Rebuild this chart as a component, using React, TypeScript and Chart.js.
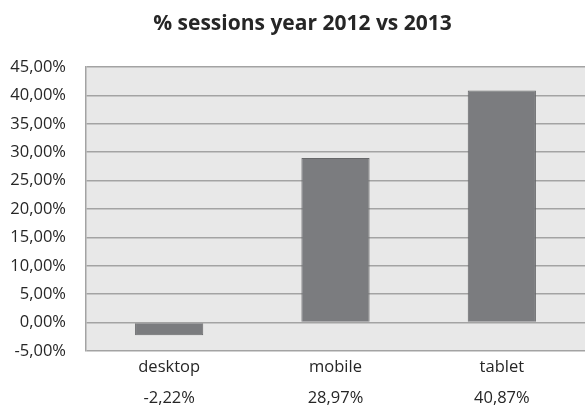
import React, { useEffect, useRef } from "react";
import { Chart, registerables } from "chart.js";

Chart.register(...registerables);

const title = "% sessions year 2012 vs 2013";
const categories = ["desktop", "mobile", "tablet"];
const values = [-2.22, 28.97, 40.87];
const valueLabels = ["-2,22%", "28,97%", "40,87%"];
const yMin = -5;
const yMax = 45;
const yStep = 5;

const FONT = "'Open Sans', sans-serif";
const TEXT = "#262626";
const GRID = "#a3a3a3";
const TITLE_SIZE = 21;

const plotBg = {
  id: "plotBg",
  beforeDraw(chart: any) {
    const { ctx, chartArea } = chart;
    if (!chartArea) return;
    ctx.save();
    ctx.fillStyle = "#e8e8e8";
    ctx.fillRect(chartArea.left, chartArea.top, chartArea.right - chartArea.left, chartArea.bottom - chartArea.top);
    ctx.restore();
  },
};

// draws the title slightly right of the canvas centre, as in the reference
const titleDraw = {
  id: "titleDraw",
  afterDraw(chart: any) {
    const tb = chart.titleBlock;
    if (!tb) return;
    const { ctx } = chart;
    ctx.save();
    ctx.fillStyle = TEXT;
    ctx.font = `bold ${TITLE_SIZE}px ${FONT}`;
    ctx.textAlign = "center";
    ctx.textBaseline = "middle";
    const y = tb.top + 11 + (TITLE_SIZE * 1.2) / 2;
    ctx.fillText(title, chart.width / 2 + 10, y);
    ctx.restore();
  },
};

export default function App() {
  const ref = useRef<HTMLCanvasElement | null>(null);
  useEffect(() => {
    if (!ref.current) return;
    const chart = new Chart(ref.current, {
      type: "bar",
      data: {
        labels: categories.map((c, i) => [c, valueLabels[i]]),
        datasets: [
          {
            data: values,
            backgroundColor: "#7b7c7f",
            borderColor: "#67686a",
            borderWidth: 1,
            barPercentage: 0.41,
            categoryPercentage: 1,
          },
        ],
      },
      options: {
        animation: false,
        responsive: true,
        maintainAspectRatio: false,
        layout: { padding: { left: 0, right: 0, top: 0, bottom: 0 } },
        plugins: {
          legend: { display: false },
          tooltip: { enabled: false },
          title: {
            display: true,
            text: title,
            color: "rgba(0,0,0,0)",
            font: { family: FONT, size: TITLE_SIZE, weight: "bold", lineHeight: 1.2 },
            padding: { top: 11, bottom: 30.8 },
          },
        },
        scales: {
          x: {
            offset: true,
            grid: { display: false, drawTicks: false },
            border: { display: false },
            ticks: {
              color: TEXT,
              padding: 1,
              maxRotation: 0,
              autoSkip: false,
              font: { family: FONT, size: 16.5, lineHeight: "31px" as any },
            },
            afterFit: (scale: any) => {
              scale.height = 54;
            },
          },
          y: {
            min: yMin,
            max: yMax,
            grid: { color: GRID, lineWidth: 1.5, drawTicks: false },
            border: { display: true, color: GRID, width: 1.5 },
            ticks: {
              stepSize: yStep,
              color: TEXT,
              padding: 20,
              font: { family: FONT, size: 16.5 },
              callback: (v: any) => Number(v).toFixed(2).replace(".", ",") + "%",
            },
            afterFit: (scale: any) => {
              scale.width = 86;
            },
          },
        },
      },
      plugins: [plotBg, titleDraw],
    });
    return () => chart.destroy();
  }, []);
  return (
    <div style={{ position: "fixed", left: 0, top: 0, width: 585, height: 405, background: "#fff" }}>
      <canvas ref={ref} />
    </div>
  );
}
